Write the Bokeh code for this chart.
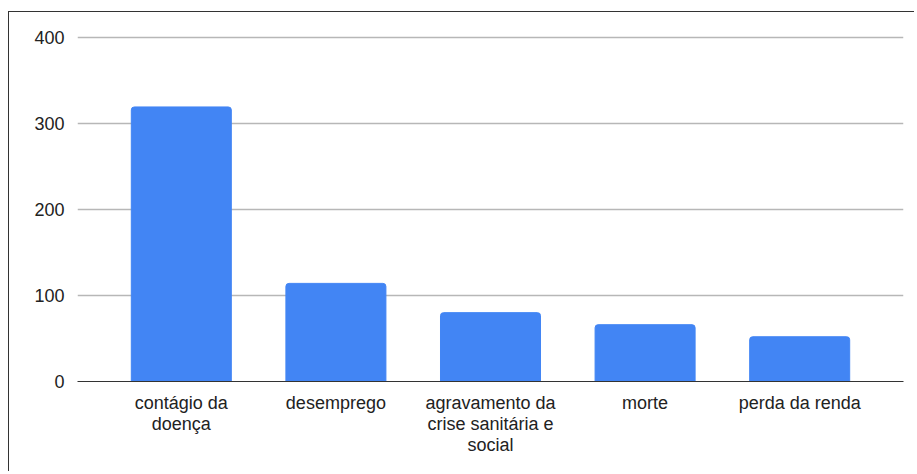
from bokeh.plotting import figure
from bokeh.models import FactorRange, Range1d, FixedTicker, ColumnDataSource
from bokeh.embed import file_html
from bokeh.resources import INLINE

categories = ["contágio da\ndoença", "desemprego", "agravamento da\ncrise sanitária e\nsocial", "morte", "perda da renda"]
values = [319, 114, 80, 66, 52]
y_ticks = [0, 100, 200, 300, 400]

FONT = "Liberation Sans"

src = ColumnDataSource(dict(cat=categories, val=values))

p = figure(
    x_range=FactorRange(factors=categories, range_padding=0.1715, range_padding_units="absolute"),
    y_range=Range1d(0, 402),
    width=906, height=460,
    min_border_left=68, min_border_right=12, min_border_top=23, min_border_bottom=91,
    output_backend="svg", toolbar_location=None,
)
p.styles = {"margin-top": "11px", "margin-left": "8px",
            "border-top": "1px solid #333333", "border-left": "1px solid #333333"}
p.outline_line_color = None

p.vbar(x="cat", top="val", width=0.647, source=src, color="#4285f4", border_radius=(3, 3, 0, 0))

p.xgrid.grid_line_color = None
p.ygrid.grid_line_color = "#b7b7b7"
p.ygrid.grid_line_width = 1.5
p.ygrid.ticker = FixedTicker(ticks=y_ticks)

p.yaxis.ticker = FixedTicker(ticks=y_ticks)
p.yaxis.axis_line_color = None
p.yaxis.major_tick_line_color = None
p.yaxis.minor_tick_line_color = None
p.yaxis.major_label_standoff = 7
p.yaxis.major_label_text_font = FONT
p.yaxis.major_label_text_font_size = "18px"
p.yaxis.major_label_text_color = "#222222"

p.xaxis.axis_line_color = "#333333"
p.xaxis.axis_line_width = 1
p.xaxis.major_tick_line_color = None
p.xaxis.minor_tick_line_color = None
p.xaxis.major_label_standoff = 5
p.xaxis.major_label_text_font = FONT
p.xaxis.major_label_text_font_size = "18px"
p.xaxis.major_label_text_color = "#222222"
p.xaxis.major_label_text_line_height = 1.07

open("out.html", "w").write(file_html(p, INLINE))
